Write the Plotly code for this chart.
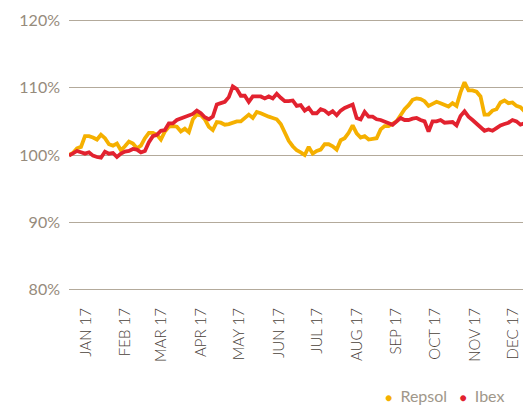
import plotly.graph_objects as go
import pandas as pd

# sampling dates (regular grid across 2017 trading year)
dates = pd.date_range("2017-01-02", "2017-12-27", periods=116)

repsol = [
    100.0, 100.3, 101.0, 101.2, 102.8, 102.8, 102.6, 102.3, 103.0, 102.5,
    101.6, 101.4, 101.7, 100.7, 101.3, 102.0, 101.7, 101.0, 101.4, 102.5,
    103.3, 103.3, 103.0, 102.3, 103.5, 104.2, 104.3, 104.2, 103.5, 103.9,
    103.4, 105.3, 106.0, 105.9, 105.3, 104.2, 103.7, 104.9, 104.8, 104.5,
    104.6, 104.8, 105.0, 105.0, 105.5, 106.0, 105.5, 106.4, 106.2, 105.9,
    105.7, 105.5, 105.3, 104.6, 103.2, 102.1, 101.3, 100.7, 100.4, 100.0,
    101.2, 100.2, 100.6, 100.8, 101.6, 101.6, 101.3, 100.8, 102.2, 102.5,
    103.3, 104.4, 103.2, 102.6, 102.8, 102.3, 102.4, 102.5, 103.8, 104.3,
    104.3, 104.6, 105.0, 105.9, 106.8, 107.4, 108.2, 108.4, 108.3, 108.0,
    107.3, 107.6, 107.9, 107.7, 107.5, 107.2, 107.7, 107.3, 109.3, 110.8,
    109.6, 109.6, 109.4, 108.7, 106.0, 106.0, 106.6, 106.8, 107.8, 108.1,
    107.7, 107.8, 107.3, 107.1, 106.5, 106.5,
]

ibex = [
    99.9, 100.3, 100.6, 100.4, 100.2, 100.4, 99.9, 99.7, 99.6, 100.5,
    100.2, 100.3, 99.7, 100.2, 100.5, 100.6, 100.9, 100.8, 100.4, 100.6,
    101.9, 102.8, 103.0, 103.6, 103.7, 104.7, 104.7, 105.2, 105.4, 105.6,
    105.8, 106.1, 106.6, 106.2, 105.6, 105.3, 105.7, 107.5, 107.7, 107.9,
    108.6, 110.2, 109.8, 108.8, 108.8, 107.9, 108.7, 108.7, 108.7, 108.4,
    108.7, 108.4, 109.1, 108.5, 108.0, 108.0, 108.1, 107.3, 107.4, 106.6,
    107.0, 106.2, 106.2, 106.8, 106.6, 106.1, 106.5, 105.9, 106.6, 107.0,
    107.3, 107.5, 105.5, 105.3, 106.4, 105.7, 105.7, 105.3, 105.2, 105.0,
    104.7, 104.5, 105.0, 105.5, 105.2, 105.2, 105.4, 105.5, 105.2, 105.0,
    103.5, 105.0, 105.0, 105.2, 104.8, 104.9, 104.9, 104.4, 105.8, 106.5,
    105.7, 105.2, 104.6, 104.1, 103.6, 103.8, 103.6, 104.0, 104.4, 104.6,
    104.8, 105.2, 105.0, 104.5, 104.7, 105.2,
]

month_ticks = pd.date_range("2017-01-01", periods=12, freq="MS") + pd.Timedelta(days=14)
month_labels = ["JAN 17", "FEB 17", "MAR 17", "APR 17", "MAY 17", "JUN 17",
                "JUL 17", "AUG 17", "SEP 17", "OCT 17", "NOV 17", "DEC 17"]
y_ticks = [80, 90, 100, 110, 120]
y_labels = ["80%", "90%", "100%", "110%", "120%"]

YELLOW = "#f5b000"
RED = "#e2222f"
GRID = "#b3aa9b"
FONT = "Lato"

fig = go.Figure()
fig.add_trace(go.Scatter(x=dates, y=repsol, mode="lines", name="Repsol",
                         line=dict(color=YELLOW, width=3.8), showlegend=False))
fig.add_trace(go.Scatter(x=dates, y=ibex, mode="lines", name="Ibex",
                         line=dict(color=RED, width=3.8), showlegend=False))

fig.update_layout(
    width=523, height=397,
    margin=dict(l=61, r=0, t=9, b=112, autoexpand=False),
    paper_bgcolor="white", plot_bgcolor="white",
    font=dict(family=FONT),
    xaxis=dict(
        type="date",
        range=["2017-01-02", "2017-12-29"],
        tickvals=list(month_ticks), ticktext=month_labels,
        tickangle=-90, showgrid=False, zeroline=False, showline=False,
        ticks="", tickfont=dict(size=15, color="#4a4139", family=FONT, weight=300),
        ticklabelstandoff=11,
    ),
    yaxis=dict(
        range=[79.5, 120.5],
        tickvals=y_ticks, ticktext=y_labels,
        showgrid=True, gridcolor=GRID, gridwidth=1,
        zeroline=False, showline=False, ticks="",
        tickfont=dict(size=16, color="#968b7c", family=FONT, weight=400),
        ticklabelstandoff=8,
    ),
    annotations=[dict(
        xref="paper", yref="paper", x=0.946, y=-0.37,
        xanchor="right", yanchor="middle", showarrow=False,
        text=(f"<span style='color:{YELLOW};font-size:12px'>●</span>  Repsol"
              f"   <span style='color:{RED};font-size:12px'>●</span>  Ibex"),
        font=dict(size=16, color="#a0978a", family=FONT, weight=400),
    )],
)

fig.write_html("out.html")
